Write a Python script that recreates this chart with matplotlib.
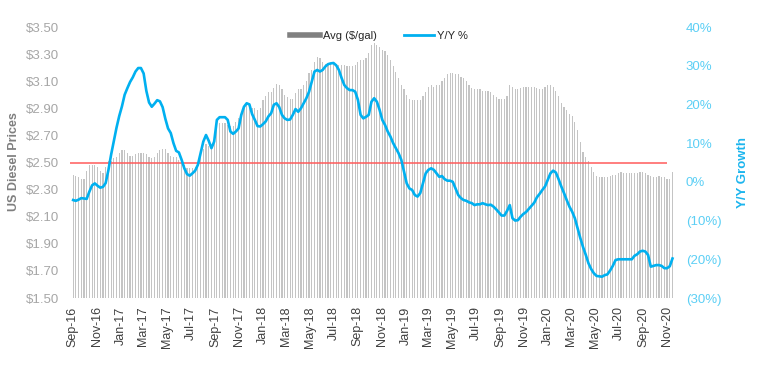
import matplotlib
matplotlib.use('Agg')
import matplotlib.pyplot as plt
import matplotlib.dates as mdates
from matplotlib.lines import Line2D
from matplotlib.ticker import FuncFormatter, FixedLocator
import pandas as pd

plt.rcParams['font.family'] = ['Liberation Sans', 'DejaVu Sans']

# weekly series, Sep-2016 .. Nov-2020
first_week = '2016-09-02'
last_week = '2020-11-15'

avg_price = [
    2.41, 2.40, 2.39, 2.38, 2.38, 2.44, 2.48, 2.48, 2.48, 2.47,
    2.44, 2.42, 2.47, 2.51, 2.51, 2.53, 2.54, 2.57, 2.59, 2.59,
    2.57, 2.55, 2.55, 2.56, 2.57, 2.57, 2.57, 2.56, 2.54, 2.53,
    2.54, 2.57, 2.59, 2.60, 2.60, 2.57, 2.55, 2.54, 2.54, 2.52,
    2.49, 2.48, 2.46, 2.46, 2.46, 2.47, 2.49, 2.57, 2.60, 2.64,
    2.62, 2.60, 2.67, 2.78, 2.79, 2.79, 2.79, 2.78, 2.77, 2.77,
    2.80, 2.83, 2.86, 2.90, 2.94, 2.94, 2.90, 2.90, 2.89, 2.90,
    2.96, 2.99, 3.02, 3.02, 3.05, 3.08, 3.07, 3.04, 3.00, 2.98,
    2.97, 2.97, 3.01, 3.04, 3.04, 3.07, 3.10, 3.16, 3.18, 3.24,
    3.28, 3.27, 3.24, 3.23, 3.23, 3.23, 3.23, 3.23, 3.22, 3.22,
    3.22, 3.21, 3.21, 3.21, 3.22, 3.24, 3.26, 3.26, 3.27, 3.31,
    3.37, 3.38, 3.37, 3.35, 3.33, 3.32, 3.29, 3.26, 3.21, 3.17,
    3.12, 3.07, 3.04, 3.00, 2.97, 2.96, 2.96, 2.96, 2.96, 2.99,
    3.02, 3.06, 3.07, 3.06, 3.07, 3.07, 3.10, 3.12, 3.15, 3.16,
    3.16, 3.15, 3.15, 3.13, 3.12, 3.10, 3.07, 3.05, 3.04, 3.04,
    3.04, 3.03, 3.03, 3.03, 3.02, 3.00, 2.98, 2.97, 2.97, 2.97,
    2.99, 3.07, 3.06, 3.04, 3.04, 3.05, 3.06, 3.06, 3.06, 3.06,
    3.06, 3.05, 3.04, 3.04, 3.06, 3.07, 3.07, 3.06, 3.03, 2.99,
    2.94, 2.91, 2.89, 2.86, 2.84, 2.80, 2.74, 2.65, 2.58, 2.54,
    2.51, 2.47, 2.43, 2.40, 2.39, 2.39, 2.39, 2.39, 2.40, 2.41,
    2.41, 2.42, 2.43, 2.42, 2.42, 2.42, 2.42, 2.42, 2.42, 2.43,
    2.43, 2.42, 2.41, 2.40, 2.39, 2.39, 2.40, 2.39, 2.39, 2.38,
    2.38, 2.43,
]

# year over year growth, percent
yoy_pct = [
    -4.7, -4.9, -4.6, -4.2, -4.3, -4.4, -2.5, -0.9, -0.4, -1.0,
    -1.5, -1.3, -0.3, 3.0, 7.0, 10.5, 14.0, 17.0, 19.5, 22.5,
    24.2, 25.8, 27.0, 28.5, 29.4, 29.4, 28.0, 23.5, 20.5, 19.4,
    20.2, 21.1, 20.8, 19.3, 16.3, 13.8, 12.6, 10.0, 8.0, 7.6,
    5.7, 3.5, 2.0, 1.6, 2.2, 2.9, 4.4, 7.4, 10.4, 12.1,
    10.6, 8.7, 10.4, 16.0, 16.7, 16.7, 16.7, 16.0, 13.0, 12.4,
    13.0, 13.8, 17.3, 19.4, 20.3, 20.0, 17.5, 16.0, 14.4, 14.3,
    14.9, 15.6, 16.9, 17.7, 19.9, 20.3, 19.3, 17.3, 16.4, 16.0,
    16.1, 17.3, 18.8, 18.1, 19.0, 20.3, 21.6, 23.3, 25.9, 28.5,
    28.9, 28.5, 28.9, 29.8, 30.4, 30.6, 30.7, 30.1, 28.9, 26.8,
    25.0, 24.2, 23.7, 23.7, 23.3, 21.2, 17.3, 16.4, 16.8, 17.3,
    20.7, 21.6, 20.7, 18.6, 16.0, 14.7, 13.0, 11.7, 10.0, 8.7,
    7.4, 5.7, 2.6, -0.4, -1.7, -2.1, -3.4, -3.8, -2.9, -0.4,
    2.2, 3.1, 3.5, 3.1, 2.2, 1.3, 1.5, 0.7, 0.3, 0.3,
    0.0, -1.7, -3.4, -4.2, -4.7, -4.9, -5.3, -5.5, -6.0, -5.8,
    -5.8, -5.5, -5.8, -6.0, -5.9, -6.4, -7.1, -7.9, -8.7, -8.7,
    -7.5, -6.0, -9.4, -10.0, -9.9, -9.0, -8.3, -7.8, -7.0, -6.2,
    -5.4, -4.0, -3.1, -2.1, -1.2, 0.5, 2.2, 2.9, 2.4, 0.7,
    -1.2, -2.9, -4.7, -6.4, -7.7, -9.4, -12.0, -14.5, -16.8, -18.8,
    -21.0, -22.5, -23.6, -24.3, -24.4, -24.5, -24.1, -23.9, -22.9, -21.7,
    -20.2, -20.0, -20.0, -20.0, -20.0, -20.0, -20.0, -19.1, -18.7, -18.0,
    -17.8, -18.0, -18.9, -21.9, -21.7, -21.5, -21.5, -21.7, -22.3, -22.3,
    -21.8, -19.8,
]

price_ticks = [1.50, 1.70, 1.90, 2.10, 2.30, 2.50, 2.70, 2.90, 3.10, 3.30, 3.50]
growth_ticks = [-0.30, -0.20, -0.10, 0.0, 0.10, 0.20, 0.30, 0.40]
threshold = 2.50

dates = pd.date_range(first_week, last_week, periods=len(avg_price))

fig = plt.figure(figsize=(7.64, 3.76), dpi=100)
ax = fig.add_axes([70 / 764, 78 / 376, 606 / 764, 271 / 376])
ax2 = ax.twinx()

ax.bar(dates, avg_price, width=3.0, color='#C4C4C4', linewidth=0)
ax.hlines(threshold, dates[0] - pd.Timedelta(days=13), dates[-1] - pd.Timedelta(days=14),
          color='#FF5B5B', lw=1.1, zorder=3)
ax2.plot(dates, [v / 100 for v in yoy_pct], color='#00B0F0', lw=1.9)

ax.set_xlim(pd.Timestamp('2016-08-25'), pd.Timestamp('2020-11-24'))
ax.set_ylim(price_ticks[0], price_ticks[-1])
ax.yaxis.set_major_locator(FixedLocator(price_ticks))
ax.yaxis.set_major_formatter(FuncFormatter(lambda v, p: f'${v:.2f}'))

ax2.set_ylim(growth_ticks[0], growth_ticks[-1])
ax2.yaxis.set_major_locator(FixedLocator(growth_ticks))


def pct(v, p):
    n = int(round(v * 100))
    return f'({abs(n)}%)' if n < 0 else f'{n}%'


ax2.yaxis.set_major_formatter(FuncFormatter(pct))

ax.xaxis.set_major_locator(mdates.MonthLocator(bymonth=[1, 3, 5, 7, 9, 11]))
ax.xaxis.set_major_formatter(mdates.DateFormatter('%b-%y'))

for a in (ax, ax2):
    for s in a.spines.values():
        s.set_visible(False)

ax.tick_params(axis='y', length=0, labelsize=9.5, labelcolor='#A6A6A6', pad=8)
ax.tick_params(axis='x', length=0, labelsize=9, labelcolor='#404040', pad=6, labelrotation=90)
ax2.tick_params(axis='y', length=0, labelsize=9.5, labelcolor='#5CCFF5', pad=7)

fig.text(14 / 764, 1 - 162 / 376, 'US Diesel Prices', rotation=90, ha='center', va='center',
         fontsize=9, fontweight='bold', color='#7F7F7F')
fig.text(743 / 764, 1 - 173 / 376, 'Y/Y Growth', rotation=90, ha='center', va='center',
         fontsize=9.5, fontweight='bold', color='#1CB5EE')

handles = [Line2D([], [], color='#808080', lw=4), Line2D([], [], color='#00B0F0', lw=2)]
fig.legend(handles, ['Avg ($/gal)', 'Y/Y %'], loc='center', bbox_to_anchor=(379 / 764, 1 - 36 / 376),
           ncol=2, frameon=False, fontsize=8, handlelength=2.7, handletextpad=0.3,
           columnspacing=2.4, labelcolor='#262626')

fig.savefig('out.png', dpi=100)
